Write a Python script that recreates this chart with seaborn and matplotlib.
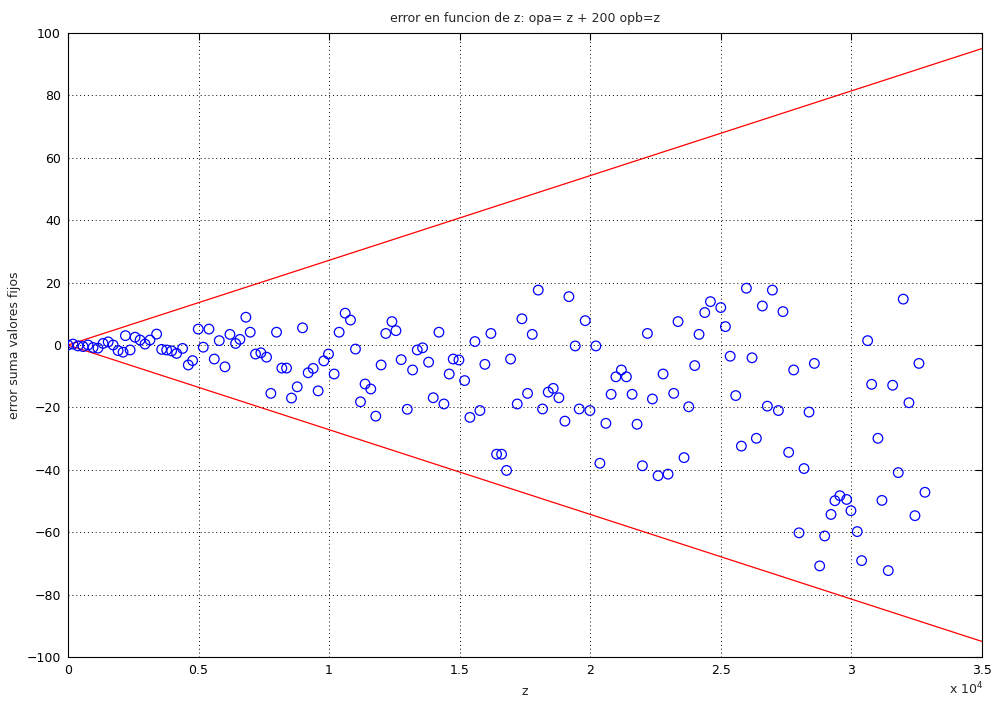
import matplotlib
matplotlib.use("Agg")
import matplotlib.pyplot as plt
import seaborn as sns
import pandas as pd

z_vals = [0, 190, 385, 580, 770, 960, 1150, 1345, 1540, 1730, 1920, 2110, 2200, 2380,
          2570, 2760, 2950, 3140, 3395, 3590, 3780, 3970, 4160, 4390, 4608, 4773,
          4990, 5181, 5399, 5603, 5794, 6012, 6203, 6420, 6585, 6813, 6979, 7183,
          7387, 7604, 7770, 7987, 8191, 8370, 8560, 8779, 8983, 9199, 9390, 9581,
          9798, 9977, 10194, 10385, 10615, 10819, 11010, 11202, 11378, 11596,
          11787, 11992, 12171, 12406, 12559, 12760, 12993, 13197, 13376, 13580,
          13810, 13988, 14206, 14397, 14600, 14753, 14972, 15190, 15393, 15584,
          15775, 15966, 16196, 16414, 16605, 16796, 16950, 17205, 17384, 17600,
          17779, 18009, 18175, 18392, 18583, 18800, 19030, 19183, 19425, 19578,
          19808, 19987, 20217, 20370, 20600, 20800, 20983, 21193, 21385, 21602,
          21793, 21998, 22190, 22381, 22598, 22790, 22981, 23197, 23363, 23593,
          23772, 24002, 24167, 24385, 24603, 24999, 25177, 25360, 25572, 25788,
          25980, 26196, 26362, 26592, 26783, 26975, 27205, 27380, 27599, 27791,
          27995, 28187, 28379, 28583, 28787, 28979, 29220, 29371, 29560, 29819,
          29984, 30225, 30393, 30623, 30776, 31018, 31171, 31413, 31581, 31796,
          31987, 32205, 32435, 32588, 32818]
err_vals = [0, 0.3, -0.3, -0.5, 0, -0.8, -1.0, 0.5, 1.0, 0, -1.8, -2.3, 3.0, -1.6,
            2.5, 1.6, 0.3, 1.6, 3.5, -1.4, -1.6, -1.9, -2.7, -1.1, -6.4, -5.0,
            5.1, -0.7, 5.1, -4.5, 1.4, -7.0, 3.4, 0.5, 1.8, 8.9, 4.1, -2.9,
            -2.5, -3.9, -15.5, 4.1, -7.4, -7.4, -17.0, -13.4, 5.5, -8.9, -7.5, -14.7,
            -5.1, -2.9, -9.3, 4.1, 10.2, 8.0, -1.3, -18.2, -12.5, -14.1,
            -22.8, -6.4, 3.7, 7.5, 4.6, -4.7, -20.6, -8.0, -1.6, -0.9,
            -5.5, -16.9, 4.1, -18.9, -9.3, -4.5, -4.8, -11.4, -23.2, 1.1,
            -21.0, -6.2, 3.7, -35.0, -35.0, -40.2, -4.5, -18.9, 8.4, -15.5,
            3.4, 17.6, -20.5, -15.1, -13.9, -16.9, -24.4, 15.5, -0.3, -20.5,
            7.8, -21.0, -0.3, -37.9, -25.1, -15.8, -10.2, -8.0, -10.2, -15.8,
            -25.4, -38.7, 3.7, -17.3, -41.9, -9.3, -41.4, -15.5, 7.5, -36.1,
            -19.8, -6.6, 3.4, 10.4, 13.9, 12.0, 5.9, -3.6, -16.2, -32.4,
            18.2, -4.1, -29.9, 12.5, -19.6, 17.6, -21.0, 10.7, -34.4, -8.0,
            -60.2, -39.6, -21.5, -5.9, -70.8, -61.2, -54.3, -49.9, -48.3, -49.5,
            -53.1, -59.8, -69.1, 1.4, -12.6, -29.9, -49.8, -72.3, -12.9, -40.9,
            14.7, -18.5, -54.7, -5.9, -47.2]

bound_z = [0, 35000]
bound_upper = [0, 95]
bound_lower = [0, -95]

xtick_vals = [0, 5000, 10000, 15000, 20000, 25000, 30000, 35000]
xtick_labels = ["0", "0.5", "1", "1.5", "2", "2.5", "3", "3.5"]
ytick_vals = [-100, -80, -60, -40, -20, 0, 20, 40, 60, 80, 100]

sns.set_style("white")
plt.rcParams['font.family'] = ['DejaVu Sans']

fig = plt.figure(figsize=(9.98, 7.09), dpi=100)
ax = fig.add_axes([0.0681, 0.0733, 0.9158, 0.8802])

df = pd.DataFrame({"z": z_vals, "err": err_vals})
sns.lineplot(x=bound_z, y=bound_upper, color=(1, 0, 0), linewidth=0.9, ax=ax,
             sort=False, estimator=None)
sns.lineplot(x=bound_z, y=bound_lower, color=(1, 0, 0), linewidth=0.9, ax=ax,
             sort=False, estimator=None)
sns.scatterplot(data=df, x="z", y="err", marker="o", s=48, facecolor="none",
                edgecolor=(0, 0, 1), linewidth=0.9, ax=ax, zorder=3)

ax.set_xlim(0, 35000)
ax.set_ylim(-100, 100)
ax.set_xticks(xtick_vals)
ax.set_xticklabels(xtick_labels)
ax.set_yticks(ytick_vals)
ax.grid(True, color="black", linestyle=(0, (1, 3)), linewidth=0.7)
ax.tick_params(direction="in", top=True, right=True, length=5, width=0.8,
               labelsize=9, pad=5, colors="black")
for sp in ax.spines.values():
    sp.set_visible(True)
    sp.set_color("black")
    sp.set_linewidth(0.8)

ax.set_title("error en funcion de z: opa= z + 200 opb=z", fontsize=9, pad=8)
ax.set_xlabel("z", fontsize=9, labelpad=6)
ax.set_ylabel("error suma valores fijos", fontsize=9, labelpad=4)
fig.text(0.951, 0.028, r"x 10$^4$", fontsize=9, ha="left", va="center")

fig.savefig("out.png", dpi=100)
